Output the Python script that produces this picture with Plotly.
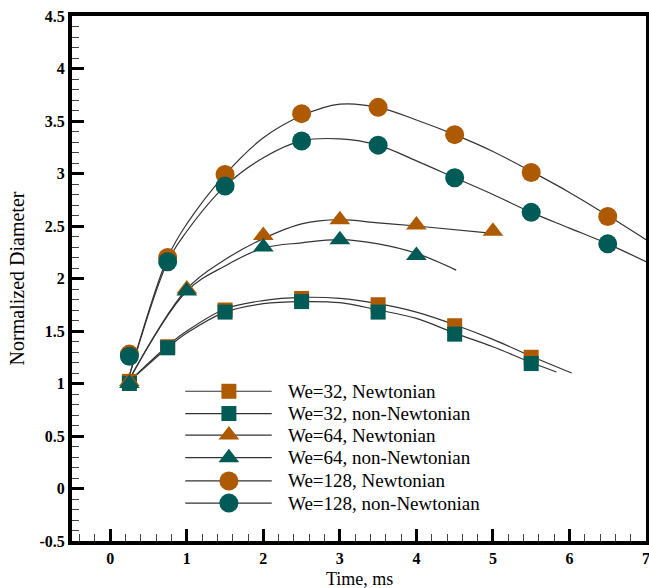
import plotly.graph_objects as go

ORANGE = "#AE5A02"
TEAL = "#005A55"
SERIF = "Liberation Serif, Times New Roman, serif"

# Marker data (time in ms, normalized diameter)
t32 = [0.25, 0.75, 1.5, 2.5, 3.5, 4.5, 5.5]
d32_n = [1.02, 1.35, 1.70, 1.81, 1.75, 1.55, 1.25]
d32_nn = [1.00, 1.34, 1.68, 1.78, 1.68, 1.47, 1.19]

t64_n = [0.25, 1, 2, 3, 4, 5]
d64_n = [1.02, 1.90, 2.41, 2.56, 2.51, 2.45]
t64_nn = [0.25, 1, 2, 3, 4]
d64_nn = [1.00, 1.88, 2.30, 2.37, 2.22]

t128 = [0.25, 0.75, 1.5, 2.5, 3.5, 4.5, 5.5, 6.5]
d128_n = [1.28, 2.20, 2.99, 3.57, 3.63, 3.37, 3.01, 2.59]
d128_nn = [1.26, 2.16, 2.88, 3.31, 3.27, 2.96, 2.63, 2.33]

# Curve data (thin black lines)
lt32_n = [0.22, 0.75, 1.0, 1.5, 2.0, 2.5, 3.0, 3.5, 4.0, 4.5, 5.0, 5.5, 6.03]
ld32_n = [1.00, 1.36, 1.50, 1.71, 1.79, 1.82, 1.81, 1.76, 1.68, 1.56, 1.42, 1.26, 1.10]
lt32_nn = [0.22, 0.75, 1.0, 1.5, 2.0, 2.5, 3.0, 3.5, 4.0, 4.5, 5.0, 5.5, 5.83]
ld32_nn = [1.00, 1.34, 1.48, 1.68, 1.76, 1.78, 1.77, 1.70, 1.62, 1.48, 1.35, 1.20, 1.11]

lt64_n = [0.22, 1.0, 1.5, 2.0, 2.5, 3.0, 3.5, 4.0, 5.0]
ld64_n = [1.00, 1.90, 2.18, 2.38, 2.52, 2.56, 2.53, 2.50, 2.43]
lt64_nn = [0.22, 1.0, 1.5, 2.0, 2.5, 3.0, 3.5, 4.0, 4.52]
ld64_nn = [1.00, 1.88, 2.12, 2.29, 2.34, 2.37, 2.33, 2.24, 2.08]

lt128_n = [0.22, 0.75, 1.0, 1.5, 2.0, 2.5, 3.0, 3.5, 4.0, 4.5, 5.0, 5.5, 6.0, 6.5, 7.0]
ld128_n = [1.00, 2.20, 2.52, 2.99, 3.34, 3.55, 3.66, 3.63, 3.51, 3.37, 3.21, 3.02, 2.82, 2.60, 2.37]
lt128_nn = [0.22, 0.75, 1.0, 1.5, 2.0, 2.5, 3.0, 3.5, 4.0, 4.5, 5.0, 5.5, 6.0, 6.5, 7.0]
ld128_nn = [1.00, 2.16, 2.45, 2.88, 3.15, 3.31, 3.33, 3.27, 3.12, 2.96, 2.80, 2.63, 2.48, 2.33, 2.16]

labels = ["We=32, Newtonian", "We=32, non-Newtonian", "We=64, Newtonian",
          "We=64, non-Newtonian", "We=128, Newtonian", "We=128, non-Newtonian"]

y_ticks = [-0.5, 0, 0.5, 1, 1.5, 2, 2.5, 3, 3.5, 4, 4.5]
y_ticktext = ["-0.5", "0", "0.5", "1", "1.5", "2", "2.5", "3", "3.5", "4", "4.5"]
x_ticks = [0, 1, 2, 3, 4, 5, 6, 7]

series = [
    (lt32_n, ld32_n, t32, d32_n, "square", 15, ORANGE),
    (lt32_nn, ld32_nn, t32, d32_nn, "square", 15, TEAL),
    (lt64_n, ld64_n, t64_n, d64_n, "triangle-up", 18, ORANGE),
    (lt64_nn, ld64_nn, t64_nn, d64_nn, "triangle-up", 18, TEAL),
    (lt128_n, ld128_n, t128, d128_n, "circle", 19, ORANGE),
    (lt128_nn, ld128_nn, t128, d128_nn, "circle", 19, TEAL),
]

fig = go.Figure()
for lx, ly, mx, my, sym, sz, col in series:
    fig.add_trace(go.Scatter(x=lx, y=ly, mode="lines", line=dict(color="#333333", width=1.2),
                             line_shape="spline", showlegend=False, hoverinfo="skip"))
for lx, ly, mx, my, sym, sz, col in series:
    fig.add_trace(go.Scatter(x=mx, y=my, mode="markers",
                             marker=dict(symbol=sym, size=sz, color=col, line=dict(width=0)),
                             showlegend=False))

# Manual legend (in data coordinates)
leg_x0, leg_x1, leg_xm, leg_xt = 0.98, 2.11, 1.55, 2.30
leg_y = [0.926, 0.714, 0.509, 0.294, 0.072, -0.139]
for (lx, ly, mx, my, sym, sz, col), yy, lab in zip(series, leg_y, labels):
    fig.add_trace(go.Scatter(x=[leg_x0, leg_x1], y=[yy, yy], mode="lines",
                             line=dict(color="#333333", width=1.2), showlegend=False, hoverinfo="skip"))
    fig.add_trace(go.Scatter(x=[leg_xm], y=[yy], mode="markers",
                             marker=dict(symbol=sym, size=sz, color=col, line=dict(width=0)),
                             showlegend=False, hoverinfo="skip"))
    fig.add_annotation(x=leg_xt, y=yy, text=lab, showarrow=False, xanchor="left", yanchor="middle",
                       font=dict(family=SERIF, size=19, color="black"))

# X axis title as annotation, tight under the tick labels
fig.add_annotation(x=0.5, xref="paper", y=-0.0724, yref="paper", text="Time, ms", showarrow=False,
                   xanchor="center", yanchor="middle",
                   font=dict(family=SERIF, size=18, color="black"))

axis_common = dict(
    showgrid=False, zeroline=False, showline=True, linecolor="black", linewidth=4,
    mirror=True, ticks="inside", tickcolor="black", tickwidth=3, ticklen=12,
    tickfont=dict(family=SERIF, size=16, color="black", weight="bold"),
    automargin=False, ticklabeloverflow="allow",
)

fig.update_xaxes(range=[-0.5, 7.0], tickvals=x_ticks, **axis_common,
                 minor=dict(ticks="inside", dtick=0.2, tick0=0, ticklen=7, tickwidth=1, tickcolor="#444"))
fig.update_yaxes(range=[-0.5, 4.5], tickvals=y_ticks, ticktext=y_ticktext, **axis_common,
                 minor=dict(ticks="inside", dtick=0.1, tick0=0, ticklen=7, tickwidth=1, tickcolor="#444"),
                 title=dict(text="Normalized Diameter", font=dict(family=SERIF, size=20, color="black"),
                            standoff=10))

fig.update_layout(width=649, height=588, margin=dict(l=72, r=3, t=16, b=47),
                  plot_bgcolor="white", paper_bgcolor="white", showlegend=False)

fig.write_html("out.html")
